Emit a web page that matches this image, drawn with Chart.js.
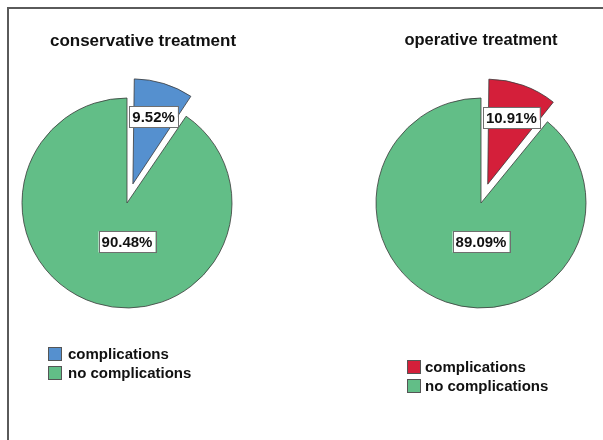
<!DOCTYPE html>
<html>
<head>
<meta charset="utf-8">
<script src="https://cdn.jsdelivr.net/npm/chart.js@4/dist/chart.umd.min.js"></script>
<style>
  html, body { margin: 0; padding: 0; background: #fff; }
  #wrap { position: relative; width: 603px; height: 440px; overflow: hidden; }
  #frame { position: absolute; left: 7px; top: 7px; right: -10px; bottom: -10px;
           border-top: 2px solid #5a5a5a; border-left: 2px solid #5a5a5a; }
  canvas { position: absolute; top: 0; }
</style>
</head>
<body>
<div id="wrap">
  <div id="frame"></div>
  <canvas id="pieLeft" width="300" height="440" style="left:0"></canvas>
  <canvas id="pieRight" width="303" height="440" style="left:300px"></canvas>
</div>
<script>
// Outcome shares (%) per treatment group
const groups = ['conservative treatment', 'operative treatment'];
const categories = ['complications', 'no complications'];
const conservativeShares = [9.52, 90.48];
const operativeShares = [10.91, 89.09];

const FONT = '"Liberation Sans", Arial, sans-serif';
const GREEN = '#62be87';
const EXPLODE = [80, 0];   // Chart.js moves an arc by offset / 4

// Keeps an exploded slice at the same radius as the rest of the pie
// (Chart.js enlarges offset arcs slightly when drawing them).
const keepRadius = {
  id: 'keepRadius',
  afterUpdate(chart) {
    chart.getDatasetMeta(0).data.forEach((arc, i) => {
      const off = (EXPLODE[i] || 0) / 4;
      if (!off) return;
      const fix = 1 - Math.sin(Math.min(Math.PI, arc.circumference));
      arc.outerRadius -= off * fix;
    });
  }
};

// Draws the group title, the percentage boxes and the legend
const piePanel = {
  id: 'piePanel',
  afterDraw(chart, args, opts) {
    const ctx = chart.ctx;
    const meta = chart.getDatasetMeta(0);
    const ds = chart.data.datasets[0];
    const R = meta.controller.outerRadius;
    ctx.save();

    // title
    ctx.fillStyle = '#111';
    ctx.font = 'bold ' + opts.titleSize + 'px ' + FONT;
    ctx.textAlign = 'center';
    ctx.textBaseline = 'middle';
    ctx.fillText(opts.title, opts.titleX, opts.titleY);

    // percentage boxes
    ctx.font = 'bold 15px ' + FONT;
    meta.data.forEach((arc, i) => {
      const v = ds.data[i];
      const txt = v.toFixed(2) + '%';
      let x, y;
      if (v > 50) {
        x = arc.x;
        y = arc.y + R * 0.37;
      } else {
        const mid = (arc.startAngle + arc.endAngle) / 2;
        const d = R * 0.86;
        x = arc.x + Math.cos(mid) * d;
        y = arc.y + Math.sin(mid) * d;
      }
      const w = ctx.measureText(txt).width + 6;
      const h = 21;
      ctx.fillStyle = '#fff';
      ctx.fillRect(x - w / 2, y - h / 2, w, h);
      ctx.strokeStyle = '#6f6f6f';
      ctx.lineWidth = 1;
      ctx.strokeRect(Math.round(x - w / 2) + 0.5, Math.round(y - h / 2) + 0.5, Math.round(w), h);
      ctx.fillStyle = '#111';
      ctx.textAlign = 'center';
      ctx.fillText(txt, x, y + 1);
    });

    // legend
    ctx.textAlign = 'left';
    ctx.font = 'bold 15px ' + FONT;
    chart.data.labels.forEach((lab, i) => {
      const bx = opts.legendX;
      const by = opts.legendY + i * opts.legendStep;
      ctx.fillStyle = ds.backgroundColor[i];
      ctx.fillRect(bx, by, 14, 14);
      ctx.strokeStyle = '#555';
      ctx.lineWidth = 1;
      ctx.strokeRect(bx + 0.5, by + 0.5, 13, 13);
      ctx.fillStyle = '#111';
      ctx.fillText(lab, bx + opts.legendGap, by + 8);
    });
    ctx.restore();
  }
};

function makePie(id, title, shares, color, padding, panel) {
  return new Chart(document.getElementById(id), {
    type: 'pie',
    data: {
      labels: categories,
      datasets: [{
        data: shares,
        backgroundColor: [color, GREEN],
        borderColor: '#3a3a3a',
        borderWidth: 0.8,
        offset: EXPLODE
      }]
    },
    options: {
      responsive: false,
      maintainAspectRatio: false,
      animation: false,
      radius: 105,
      layout: { padding },
      plugins: {
        legend: { display: false },
        tooltip: { enabled: false },
        title: { display: false },
        piePanel: Object.assign({ title }, panel)
      }
    },
    plugins: [keepRadius, piePanel]
  });
}

makePie('pieLeft', groups[0], conservativeShares, '#5590cf',
  { left: 0, right: 46, top: 0, bottom: 34 },
  { titleX: 143, titleY: 41, titleSize: 17, legendX: 48, legendY: 347, legendStep: 19, legendGap: 20 });

makePie('pieRight', groups[1], operativeShares, '#d41f3a',
  { left: 59, right: 0, top: 0, bottom: 34 },
  { titleX: 181, titleY: 40, titleSize: 16.5, legendX: 107, legendY: 360, legendStep: 19, legendGap: 18 });
</script>
</body>
</html>
